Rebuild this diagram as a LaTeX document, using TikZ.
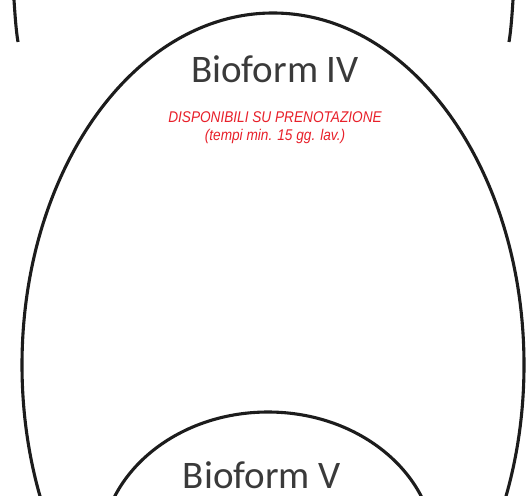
\documentclass[tikz,border=0pt]{standalone}
\usepackage{fontspec}
\usetikzlibrary{positioning}
\newfontfamily\formfont{Carlito}
\newfontfamily\notefont[FakeStretch=0.88]{Liberation Sans}
\definecolor{bfline}{HTML}{1C1C1C}
\definecolor{bftext}{HTML}{3A3A3A}
\definecolor{bfred}{HTML}{E8202A}
\tikzset{
  outline/.style={draw=bfline, line width=3.1pt},
  formlabel/.style={text=bftext, font=\formfont\fontsize{39}{39}\selectfont, inner sep=0pt},
  note/.style={text=bfred, font=\notefont\itshape\fontsize{15.5}{18}\selectfont, align=center, inner sep=0pt},
}
\begin{document}
\begin{tikzpicture}[x=1pt, y=-1pt]
    \useasboundingbox[fill=white] (0,0) rectangle (526,495);
    \begin{scope}
      \clip (0,0) rectangle (526,495);
      % outer egg and lower arch
      \draw[outline] (273,365) ellipse [x radius=251, y radius=352];
      \draw[outline] (268,552) ellipse [x radius=167, y radius=140];
    \end{scope}
    % ends of the shapes above
    \draw[outline] (14,0) .. controls (15,15) and (16,30) .. (18,42);
    \draw[outline] (513,0) .. controls (512,15) and (511,30) .. (509,42);

    \node[formlabel, anchor=base] (bioiv) at (275,82) {Bioform IV};
    \node[note, below=29pt of bioiv] (avail) {DISPONIBILI SU PRENOTAZIONE\\(tempi min. 15 gg. lav.)};
    \node[formlabel, anchor=base] (biov) at (262,488) {Bioform V};
  \end{tikzpicture}
\end{document}
